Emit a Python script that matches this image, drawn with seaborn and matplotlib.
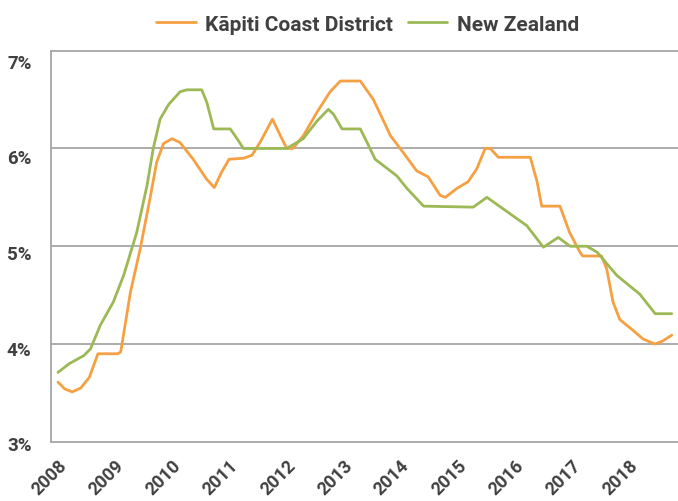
import matplotlib
matplotlib.use("Agg")
import matplotlib.pyplot as plt
import matplotlib.transforms as mtransforms
import seaborn as sns
import pandas as pd

# Kāpiti Coast District (orange)
kapiti_x = [2008.0, 2008.12, 2008.25, 2008.4, 2008.55, 2008.7, 2009.05, 2009.1, 2009.27,
            2009.44, 2009.62, 2009.73, 2009.85, 2010.0, 2010.14, 2010.37, 2010.6, 2010.74,
            2010.87, 2011.0, 2011.25, 2011.4, 2011.55, 2011.76, 2011.9, 2012.01, 2012.12,
            2012.3, 2012.54, 2012.77, 2012.95, 2013.3, 2013.53, 2013.83, 2014.05, 2014.29,
            2014.49, 2014.7, 2014.79, 2014.99, 2015.19, 2015.34, 2015.49, 2015.58, 2015.72,
            2016.28, 2016.4, 2016.48, 2016.8, 2016.97, 2017.15, 2017.2, 2017.53, 2017.62,
            2017.73, 2017.85, 2018.08, 2018.26, 2018.47, 2018.6, 2018.76]
kapiti_y = [3.61, 3.54, 3.51, 3.55, 3.66, 3.90, 3.90, 3.92, 4.53,
            4.97, 5.51, 5.86, 6.05, 6.10, 6.06, 5.89, 5.69, 5.60,
            5.76, 5.89, 5.90, 5.93, 6.07, 6.30, 6.13, 6.00, 6.00,
            6.13, 6.37, 6.58, 6.69, 6.69, 6.50, 6.13, 5.96, 5.77,
            5.71, 5.52, 5.50, 5.59, 5.66, 5.79, 6.00, 6.00, 5.91,
            5.91, 5.66, 5.41, 5.41, 5.14, 4.94, 4.90, 4.90, 4.77,
            4.43, 4.25, 4.14, 4.05, 4.00, 4.03, 4.09]

# New Zealand (green)
nz_x = [2008.0, 2008.2, 2008.45, 2008.57, 2008.74, 2008.97, 2009.15, 2009.38, 2009.56,
        2009.67, 2009.79, 2009.94, 2010.14, 2010.26, 2010.52, 2010.61, 2010.73, 2011.02,
        2011.14, 2011.25, 2012.01, 2012.3, 2012.54, 2012.74, 2012.83, 2012.98, 2013.3,
        2013.42, 2013.56, 2013.94, 2014.12, 2014.41, 2015.28, 2015.52, 2015.81, 2016.22,
        2016.51, 2016.77, 2016.98, 2017.27, 2017.45, 2017.8, 2018.2, 2018.47, 2018.76]
nz_y = [3.71, 3.80, 3.88, 3.95, 4.19, 4.43, 4.70, 5.14, 5.62,
        6.00, 6.30, 6.45, 6.58, 6.60, 6.60, 6.47, 6.20, 6.20,
        6.10, 6.00, 6.00, 6.10, 6.28, 6.40, 6.35, 6.20, 6.20,
        6.06, 5.89, 5.72, 5.59, 5.41, 5.40, 5.50, 5.38, 5.21,
        4.99, 5.09, 5.00, 5.00, 4.94, 4.70, 4.51, 4.31, 4.31]

years = list(range(2008, 2019))
y_ticks = [3, 4, 5, 6, 7]

orange = "#F5A042"
green = "#9CB955"
text_col = "#404040"
grid_col = "#A6A6A6"

df = pd.concat([
    pd.DataFrame({"year": kapiti_x, "rate": kapiti_y, "area": "Kāpiti Coast District"}),
    pd.DataFrame({"year": nz_x, "rate": nz_y, "area": "New Zealand"}),
])

sns.set_style("white")
plt.rcParams["font.family"] = ["Roboto", "DejaVu Sans"]

fig = plt.figure(figsize=(6.78, 5.02), dpi=100)
ax = fig.add_axes([0.0752, 0.118, 0.9248, 0.779])

sns.lineplot(data=df, x="year", y="rate", hue="area",
             palette=[orange, green], linewidth=2.0, ax=ax, sort=False)

ax.set_xlim(2007.877, 2018.87)
ax.set_ylim(3, 7)
ax.set_xticks(years)
ax.set_xticklabels([str(y) for y in years], rotation=45, ha="right",
                   rotation_mode="anchor", fontsize=13, fontweight="bold", color=text_col)
ax.set_yticks(y_ticks)
ax.set_yticklabels([f"{v}%" for v in y_ticks], fontsize=13.5, fontweight="bold", color=text_col)
ax.tick_params(axis="x", length=5, width=1.2, color=grid_col, pad=5)
ax.tick_params(axis="y", length=0, pad=14)
ax.set_xlabel("")
ax.set_ylabel("")

# the original's % labels sit a little below their gridlines, more so near the top
for lab, v in zip(ax.get_yticklabels(), y_ticks):
    shift = -(1.5 + 2.1 * (v - 3)) / 100
    lab.set_transform(lab.get_transform() + mtransforms.ScaledTranslation(0, shift, fig.dpi_scale_trans))

for v in [4, 5, 6]:
    ax.axhline(v, color=grid_col, linewidth=1.3, zorder=0)

for side in ["left", "bottom", "top"]:
    ax.spines[side].set_color(grid_col)
    ax.spines[side].set_linewidth(1.3)
ax.spines["right"].set_visible(False)

ax.legend(loc="upper center", bbox_to_anchor=(0.505, 1.14), ncol=2, frameon=False,
          handlelength=1.9, handletextpad=0.45, columnspacing=0.7,
          prop={"size": 15, "weight": "bold"}, labelcolor=text_col)

fig.savefig("out.png", dpi=100)
